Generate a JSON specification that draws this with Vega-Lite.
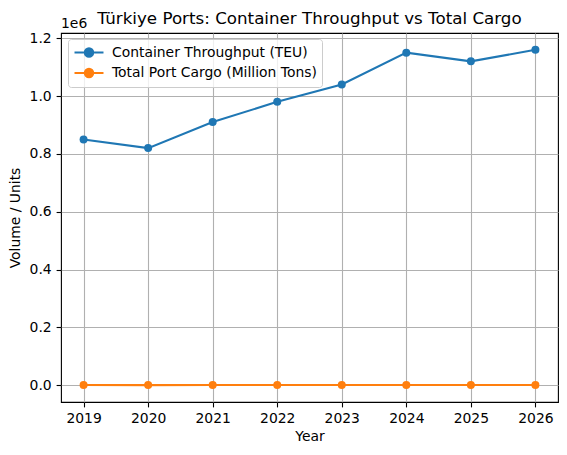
{
  "$schema": "https://vega.github.io/schema/vega-lite/v6.json",
  "autosize": {"type": "none"},
  "padding": {"left": 61, "top": 33, "right": 9, "bottom": 53},
  "width": 497,
  "height": 369,
  "background": "white",
  "title": {
    "text": "Türkiye Ports: Container Throughput vs Total Cargo",
    "font": "DejaVu Sans",
    "fontSize": 16.7,
    "fontWeight": "normal",
    "color": "black",
    "anchor": "middle",
    "offset": 8,
    "dy": 19
  },
  "config": {
    "font": "DejaVu Sans",
    "view": {"stroke": "black", "strokeWidth": 1.1},
    "axis": {
      "domain": false,
      "grid": true,
      "gridColor": "#b0b0b0",
      "gridWidth": 1.1,
      "tickColor": "black",
      "tickWidth": 1.1,
      "tickSize": 4.9,
      "labelPadding": 4.9,
      "labelFont": "DejaVu Sans",
      "labelFontSize": 13.9,
      "labelColor": "black",
      "titleFont": "DejaVu Sans",
      "titleFontSize": 13.9,
      "titleFontWeight": "normal",
      "titleColor": "black"
    },
    "legend": {
      "orient": "none",
      "legendX": 7,
      "legendY": 6,
      "fillColor": "rgba(255,255,255,0.8)",
      "strokeColor": "#cccccc",
      "cornerRadius": 3,
      "padding": 5,
      "labelFont": "DejaVu Sans",
      "labelFontSize": 13.9,
      "labelColor": "black",
      "labelOffset": 14.5,
      "labelLimit": 0,
      "rowPadding": 3.5,
      "symbolOffset": 7.5,
      "title": null
    }
  },
  "data": {
    "values": [
      {"year": 2019, "series": "Container Throughput (TEU)", "value": 850000},
      {"year": 2020, "series": "Container Throughput (TEU)", "value": 820000},
      {"year": 2021, "series": "Container Throughput (TEU)", "value": 910000},
      {"year": 2022, "series": "Container Throughput (TEU)", "value": 980000},
      {"year": 2023, "series": "Container Throughput (TEU)", "value": 1040000},
      {"year": 2024, "series": "Container Throughput (TEU)", "value": 1150000},
      {"year": 2025, "series": "Container Throughput (TEU)", "value": 1120000},
      {"year": 2026, "series": "Container Throughput (TEU)", "value": 1160000},
      {"year": 2019, "series": "Total Port Cargo (Million Tons)", "value": 496},
      {"year": 2020, "series": "Total Port Cargo (Million Tons)", "value": 493},
      {"year": 2021, "series": "Total Port Cargo (Million Tons)", "value": 526},
      {"year": 2022, "series": "Total Port Cargo (Million Tons)", "value": 528},
      {"year": 2023, "series": "Total Port Cargo (Million Tons)", "value": 540},
      {"year": 2024, "series": "Total Port Cargo (Million Tons)", "value": 558},
      {"year": 2025, "series": "Total Port Cargo (Million Tons)", "value": 570},
      {"year": 2026, "series": "Total Port Cargo (Million Tons)", "value": 580}
    ]
  },
  "encoding": {
    "x": {
      "field": "year",
      "type": "quantitative",
      "scale": {"domain": [2018.65, 2026.35], "nice": false, "zero": false},
      "axis": {
        "title": "Year",
        "values": [2019, 2020, 2021, 2022, 2023, 2024, 2025, 2026],
        "format": "d",
        "titlePadding": 4
      }
    },
    "y": {
      "field": "value",
      "type": "quantitative",
      "scale": {"domain": [-58000, 1218000], "nice": false, "zero": false},
      "axis": {
        "title": "Volume / Units",
        "values": [0, 200000, 400000, 600000, 800000, 1000000, 1200000],
        "labelExpr": "format(datum.value / 1000000, '.1f')",
        "titlePadding": 7
      }
    },
    "color": {
      "field": "series",
      "type": "nominal",
      "scale": {
        "domain": ["Container Throughput (TEU)", "Total Port Cargo (Million Tons)"],
        "range": ["#1f77b4", "#ff7f0e"]
      },
      "legend": {
        "symbolType": "M-2,0H2M0.58,0A0.58,0.58 0 1 1 -0.58,0A0.58,0.58 0 1 1 0.58,0Z",
        "symbolSize": 210,
        "symbolStrokeWidth": 2.08,
        "symbolOpacity": 1
      }
    }
  },
  "layer": [
    {
      "mark": {"type": "line", "strokeWidth": 2.08}
    },
    {
      "mark": {"type": "point", "filled": true, "opacity": 1, "size": 64}
    },
    {
      "transform": [{"filter": "datum.year == 2019 && datum.value > 1000"}],
      "mark": {"type": "text", "align": "left", "baseline": "bottom", "dy": -2, "fontSize": 13.9, "fontWeight": "normal", "font": "DejaVu Sans", "color": "black"},
      "encoding": {
        "x": {"datum": 2018.65},
        "y": {"datum": 1218000},
        "text": {"value": "1e6"},
        "color": {"value": "black"}
      }
    }
  ]
}
